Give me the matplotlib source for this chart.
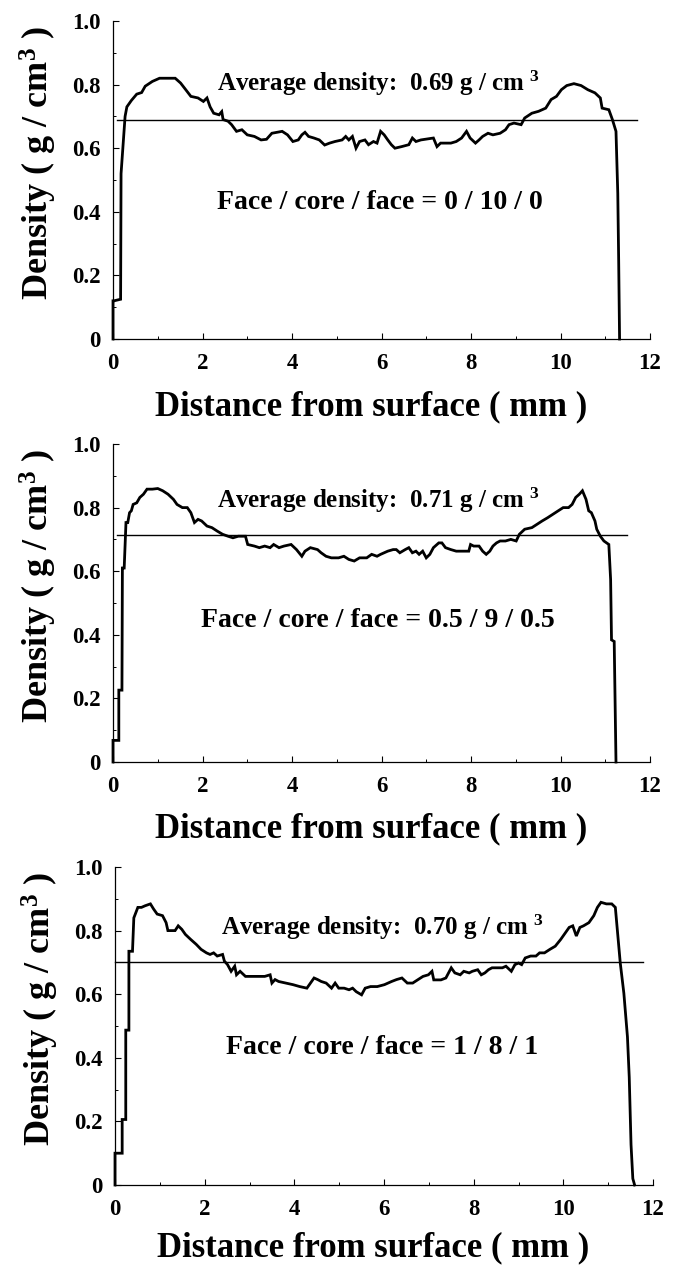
import matplotlib
matplotlib.use("Agg")
import matplotlib.pyplot as plt
from matplotlib.ticker import MultipleLocator

plt.rcParams['font.family'] = ['Liberation Serif', 'DejaVu Serif']
plt.rcParams['font.weight'] = 'bold'
plt.rcParams['mathtext.fontset'] = 'custom'
plt.rcParams['mathtext.rm'] = 'Liberation Serif:bold'
plt.rcParams['mathtext.bf'] = 'Liberation Serif:bold'
plt.rcParams['mathtext.it'] = 'Liberation Serif:bold'

# ---- data: density profiles (distance mm, density g/cm3) ----
profile_0_10_0 = [
    (0, 0), (0, 0.12), (0.02, 0.12), (0.17, 0.125), (0.18, 0.52), (0.22, 0.60), (0.27, 0.70),
    (0.31, 0.73), (0.41, 0.75), (0.53, 0.77), (0.64, 0.775), (0.72, 0.795), (0.88, 0.81),
    (1.04, 0.82), (1.39, 0.82), (1.51, 0.805), (1.62, 0.785), (1.74, 0.763), (1.90, 0.758),
    (2.02, 0.747), (2.10, 0.758), (2.17, 0.73), (2.25, 0.71), (2.37, 0.705), (2.43, 0.715),
    (2.46, 0.69), (2.57, 0.685), (2.65, 0.674), (2.76, 0.653), (2.88, 0.658), (3.00, 0.642),
    (3.16, 0.637), (3.31, 0.626), (3.43, 0.628), (3.55, 0.647), (3.78, 0.653), (3.90, 0.642),
    (4.02, 0.621), (4.14, 0.626), (4.22, 0.642), (4.29, 0.650), (4.37, 0.637), (4.49, 0.632),
    (4.61, 0.626), (4.73, 0.610), (4.84, 0.616), (4.96, 0.621), (5.12, 0.626), (5.20, 0.637),
    (5.27, 0.626), (5.35, 0.637), (5.43, 0.600), (5.51, 0.621), (5.63, 0.626), (5.71, 0.611),
    (5.82, 0.621), (5.90, 0.616), (5.98, 0.653), (6.06, 0.642), (6.14, 0.626), (6.22, 0.611),
    (6.30, 0.600), (6.45, 0.605), (6.61, 0.611), (6.69, 0.632), (6.77, 0.621), (6.88, 0.626),
    (7.16, 0.632), (7.24, 0.605), (7.32, 0.616), (7.55, 0.616), (7.67, 0.621), (7.79, 0.632),
    (7.90, 0.653), (7.98, 0.632), (8.10, 0.616), (8.18, 0.626), (8.26, 0.637), (8.38, 0.647),
    (8.49, 0.642), (8.65, 0.647), (8.77, 0.658), (8.85, 0.674), (8.96, 0.679), (9.12, 0.674),
    (9.20, 0.695), (9.36, 0.71), (9.51, 0.716), (9.67, 0.726), (9.79, 0.753), (9.91, 0.763),
    (10.02, 0.784), (10.14, 0.797), (10.30, 0.803), (10.46, 0.797), (10.61, 0.784),
    (10.77, 0.774), (10.89, 0.758), (10.93, 0.726), (11.08, 0.721), (11.16, 0.69),
    (11.24, 0.653), (11.28, 0.458), (11.30, 0.247), (11.32, 0.0),
]

profile_05_9_05 = [
    (0, 0), (0, 0.068), (0.13, 0.068), (0.13, 0.226), (0.20, 0.226), (0.21, 0.61), (0.25, 0.61),
    (0.29, 0.753), (0.33, 0.753), (0.37, 0.784), (0.41, 0.79), (0.45, 0.81), (0.53, 0.815),
    (0.60, 0.832), (0.68, 0.842), (0.76, 0.858), (0.88, 0.858), (1.00, 0.86), (1.11, 0.853),
    (1.23, 0.842), (1.35, 0.826), (1.43, 0.81), (1.55, 0.80), (1.66, 0.80), (1.74, 0.784),
    (1.82, 0.753), (1.90, 0.763), (1.98, 0.758), (2.10, 0.742), (2.21, 0.737), (2.33, 0.726),
    (2.45, 0.716), (2.57, 0.71), (2.68, 0.705), (2.80, 0.71), (2.96, 0.71), (3.01, 0.684),
    (3.16, 0.679), (3.27, 0.674), (3.39, 0.679), (3.51, 0.674), (3.59, 0.684), (3.71, 0.674),
    (3.82, 0.679), (3.98, 0.684), (4.10, 0.668), (4.22, 0.647), (4.29, 0.663), (4.41, 0.674),
    (4.57, 0.668), (4.65, 0.658), (4.76, 0.647), (4.88, 0.642), (5.04, 0.642), (5.16, 0.647),
    (5.27, 0.637), (5.39, 0.632), (5.51, 0.642), (5.67, 0.642), (5.78, 0.653), (5.90, 0.647),
    (5.98, 0.653), (6.14, 0.663), (6.26, 0.668), (6.33, 0.668), (6.41, 0.658), (6.53, 0.668),
    (6.61, 0.674), (6.69, 0.658), (6.77, 0.663), (6.84, 0.653), (6.92, 0.663), (7.00, 0.642),
    (7.08, 0.653), (7.16, 0.674), (7.28, 0.689), (7.35, 0.689), (7.43, 0.674), (7.55, 0.668),
    (7.67, 0.663), (7.79, 0.663), (7.95, 0.663), (7.99, 0.684), (8.06, 0.679), (8.18, 0.679),
    (8.26, 0.663), (8.34, 0.653), (8.42, 0.663), (8.49, 0.679), (8.57, 0.689), (8.65, 0.695),
    (8.77, 0.695), (8.89, 0.70), (9.01, 0.695), (9.08, 0.716), (9.20, 0.732), (9.36, 0.737),
    (9.47, 0.747), (9.59, 0.758), (9.71, 0.768), (9.83, 0.779), (9.95, 0.79), (10.06, 0.80),
    (10.18, 0.80), (10.26, 0.81), (10.34, 0.832), (10.42, 0.842), (10.49, 0.853),
    (10.57, 0.826), (10.63, 0.79), (10.69, 0.784), (10.77, 0.758), (10.81, 0.732),
    (10.89, 0.71), (10.97, 0.695), (11.08, 0.684), (11.12, 0.574), (11.14, 0.384),
    (11.20, 0.379), (11.24, 0.0),
]

profile_1_8_1 = [
    (0, 0), (0, 0.10), (0.16, 0.10), (0.16, 0.206), (0.24, 0.206), (0.24, 0.487), (0.31, 0.487),
    (0.31, 0.735), (0.39, 0.735), (0.42, 0.84), (0.51, 0.873), (0.59, 0.873), (0.67, 0.878),
    (0.79, 0.884), (0.86, 0.868), (0.94, 0.852), (1.06, 0.847), (1.14, 0.825), (1.18, 0.80),
    (1.34, 0.80), (1.41, 0.815), (1.49, 0.804), (1.57, 0.788), (1.69, 0.772), (1.81, 0.757),
    (1.92, 0.741), (2.04, 0.73), (2.12, 0.725), (2.20, 0.73), (2.28, 0.72), (2.40, 0.725),
    (2.44, 0.704), (2.51, 0.693), (2.59, 0.672), (2.67, 0.688), (2.71, 0.661), (2.79, 0.672),
    (2.91, 0.656), (3.02, 0.656), (3.18, 0.656), (3.34, 0.656), (3.46, 0.661), (3.50, 0.635),
    (3.57, 0.646), (3.65, 0.640), (3.81, 0.635), (3.97, 0.630), (4.12, 0.624), (4.28, 0.619),
    (4.36, 0.635), (4.44, 0.651), (4.52, 0.646), (4.60, 0.640), (4.71, 0.635), (4.83, 0.619),
    (4.91, 0.635), (4.99, 0.619), (5.11, 0.619), (5.22, 0.614), (5.30, 0.619), (5.38, 0.608),
    (5.50, 0.598), (5.58, 0.619), (5.70, 0.624), (5.85, 0.624), (6.01, 0.630), (6.17, 0.640),
    (6.28, 0.646), (6.40, 0.651), (6.52, 0.635), (6.64, 0.635), (6.76, 0.646), (6.87, 0.656),
    (6.99, 0.661), (7.07, 0.672), (7.11, 0.645), (7.27, 0.645), (7.38, 0.651), (7.50, 0.683),
    (7.58, 0.667), (7.70, 0.661), (7.78, 0.672), (7.90, 0.667), (7.97, 0.672), (8.09, 0.677),
    (8.17, 0.661), (8.25, 0.667), (8.33, 0.677), (8.41, 0.683), (8.52, 0.683), (8.64, 0.683),
    (8.72, 0.688), (8.84, 0.672), (8.92, 0.693), (9.00, 0.698), (9.07, 0.693), (9.15, 0.714),
    (9.27, 0.72), (9.39, 0.72), (9.47, 0.73), (9.58, 0.73), (9.70, 0.741), (9.82, 0.751),
    (9.94, 0.772), (10.05, 0.794), (10.13, 0.81), (10.21, 0.815), (10.29, 0.783),
    (10.37, 0.81), (10.45, 0.815), (10.57, 0.825), (10.68, 0.847), (10.76, 0.873),
    (10.84, 0.889), (10.96, 0.884), (11.08, 0.884), (11.16, 0.873), (11.19, 0.825),
    (11.27, 0.698), (11.35, 0.603), (11.43, 0.466), (11.47, 0.339), (11.51, 0.127),
    (11.55, 0.02), (11.59, 0.0),
]

profiles = [profile_0_10_0, profile_05_9_05, profile_1_8_1]
average_density = [0.69, 0.713, 0.70]
average_labels = ["0.69", "0.71", "0.70"]
average_span = [(0.1, 11.7), (0.1, 11.48), (0.0, 11.78)]
layer_labels = ["0 / 10 / 0", "0.5 / 9 / 0.5", "1 / 8 / 1"]

x_ticks = [0, 2, 4, 6, 8, 10, 12]
x_tick_labels = ["0", "2", "4", "6", "8", "10", "12"]
y_ticks = [0, 0.2, 0.4, 0.6, 0.8, 1.0]
y_tick_labels = ["0", "0.2", "0.4", "0.6", "0.8", "1.0"]

# ---- layout ----
W, H = 676, 1267
fig = plt.figure(figsize=(W / 100, H / 100), dpi=100)
fig.patch.set_facecolor('white')

axes_rects = [
    (113, 21, 650, 339),
    (113, 444, 650, 762),
    (115, 867, 653, 1185),
]
avg_text_pos = [(2.32, 0.779), (2.32, 0.80), (2.36, 0.786)]
face_text_pos = [(2.32, 0.41), (1.96, 0.426), (2.48, 0.413)]
xlabel_pads = [12, 11, 8]

for i, (x0, y0, x1, y1) in enumerate(axes_rects):
    ax = fig.add_axes([x0 / W, 1 - y1 / H, (x1 - x0) / W, (y1 - y0) / H])
    xs = [p[0] for p in profiles[i]]
    ys = [p[1] for p in profiles[i]]
    ax.plot(xs, ys, color='black', lw=2.0, solid_joinstyle='miter', clip_on=False)
    a, b = average_span[i]
    ax.plot([a, b], [average_density[i]] * 2, color='black', lw=1.0, clip_on=False)

    ax.set_xlim(0, 12)
    ax.set_ylim(0, 1.0)
    for s in ['top', 'right']:
        ax.spines[s].set_visible(False)
    for s in ['left', 'bottom']:
        ax.spines[s].set_linewidth(0.9)
    ax.set_xticks(x_ticks)
    ax.set_xticklabels(x_tick_labels, fontsize=16.5, fontweight='bold')
    ax.set_yticks(y_ticks)
    ax.set_yticklabels(y_tick_labels, fontsize=16.5, fontweight='bold')
    ax.xaxis.set_minor_locator(MultipleLocator(1))
    ax.yaxis.set_minor_locator(MultipleLocator(0.1))
    ax.tick_params(which='major', direction='in', length=4, width=0.8)
    ax.tick_params(which='minor', direction='in', length=2.5, width=0.7)
    ax.tick_params(axis='x', which='major', pad=10)
    ax.tick_params(axis='y', which='major', pad=9)
    ax.set_xlabel("Distance from surface ( mm )", fontsize=25, fontweight='bold',
                  labelpad=xlabel_pads[i], x=0.48)
    ax.set_ylabel("Density ( g / cm$^{3}$ )", fontsize=26, fontweight='bold',
                  labelpad=9, y=0.555)

    tx, ty = avg_text_pos[i]
    ax.text(tx, ty, "Average density:  %s g / cm $^{3}$" % average_labels[i],
            fontsize=18, fontweight='bold', ha='left', va='baseline')
    fx, fy = face_text_pos[i]
    ax.text(fx, fy, "Face / core / face = %s" % layer_labels[i],
            fontsize=20, fontweight='bold', ha='left', va='baseline')

fig.savefig("out.png", dpi=100, facecolor='white')
